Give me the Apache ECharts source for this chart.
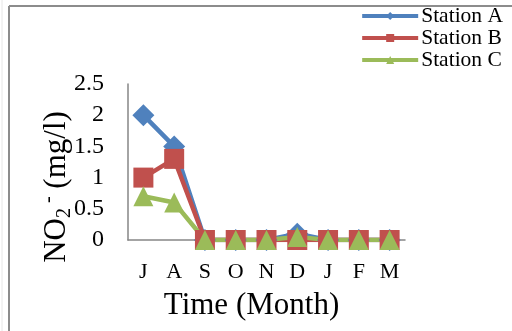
<!DOCTYPE html>
<html><head><meta charset="utf-8">
<script src="https://cdn.jsdelivr.net/npm/echarts@6/dist/echarts.min.js"></script>
<style>html,body{margin:0;padding:0;background:#fff}#c{width:512px;height:331px}</style>
</head><body><div id="c"></div>
<script>
const months = ['J','A','S','O','N','D','J','F','M'];
const stationA = [2.0, 1.5, 0, 0, 0, 0.1, 0, 0, 0];
const stationB = [1.0, 1.3, 0, 0, 0, 0, 0, 0, 0];
const stationC = [0.7, 0.6, 0, 0, 0, 0.05, 0, 0, 0];
const yTicks = ['0','0.5','1','1.5','2','2.5'];
const seriesNames = ['Station A','Station B','Station C'];

const serif = '"Liberation Serif", "Times New Roman", serif';
const chart = echarts.init(document.getElementById('c'), null, {renderer:'canvas'});
const mk = (name, data, color, symbol, size) => ({
  name, type:'line', data, symbol, symbolSize:size,
  lineStyle:{color, width:4.5}, itemStyle:{color},
  showSymbol:true, z: 2
});
chart.setOption({
  animation:false,
  backgroundColor:'#fff',
  textStyle:{fontFamily:serif},
  graphic:[
    {type:'line', shape:{x1:9,y1:6,x2:512,y2:6}, style:{stroke:'#8c8c8c', lineWidth:2}},
    {type:'line', shape:{x1:9,y1:6,x2:9,y2:331}, style:{stroke:'#8c8c8c', lineWidth:2}},
    {type:'line', shape:{x1:2,y1:0,x2:2,y2:331}, style:{stroke:'#e6e6e6', lineWidth:1}}
  ],
  legend:{
    orient:'vertical', right:9, top:5, itemGap:0, padding:[0,0,0,0],
    itemWidth:56, itemHeight:10,
    lineStyle:{width:4},
    textStyle:{fontFamily:serif, fontSize:21.5, color:'#000', padding:[0,0,0,-2], lineHeight:21},
    data:seriesNames
  },
  grid:{left:128, top:84, right:107, bottom:91},
  xAxis:{
    type:'category', data:months, boundaryGap:true,
    axisLine:{lineStyle:{color:'#868686', width:1.5}},
    axisTick:{show:false},
    axisLabel:{fontFamily:serif, fontSize:22, color:'#000', margin:21, interval:0},
    name:'Time (Month)', nameLocation:'middle', nameGap:50, nameMoveOverlap:false,
    nameTextStyle:{fontFamily:serif, fontSize:31, color:'#000', padding:[0,30,0,0]}
  },
  yAxis:{
    type:'value', min:0, max:2.5, interval:0.5,
    axisLine:{show:true, lineStyle:{color:'#868686', width:1.5}},
    axisTick:{show:false},
    splitLine:{show:false},
    axisLabel:{fontFamily:serif, fontSize:24, color:'#000', margin:24,
      formatter:(v)=>yTicks[Math.round(v/0.5)]},
    name:'{a|NO}{sub|2}{sup| -}{a| (mg/l)}', nameLocation:'middle', nameGap:53, nameRotate:90,
    nameMoveOverlap:false,
    nameTextStyle:{fontFamily:serif, fontSize:31, color:'#000', padding:[0,50,0,0],
      rich:{
        a:{fontFamily:serif, fontSize:31, color:'#000', lineHeight:36, verticalAlign:'middle'},
        sub:{fontFamily:serif, fontSize:20, color:'#000', lineHeight:36, verticalAlign:'bottom'},
        sup:{fontFamily:serif, fontSize:20, color:'#000', lineHeight:36, verticalAlign:'top'}
      }}
  },
  series:[
    mk('Station A', stationA, '#4F81BD', 'diamond', 22),
    mk('Station B', stationB, '#C0504D', 'rect', 20),
    mk('Station C', stationC, '#9BBB59', 'triangle', 20)
  ]
});
</script></body></html>
